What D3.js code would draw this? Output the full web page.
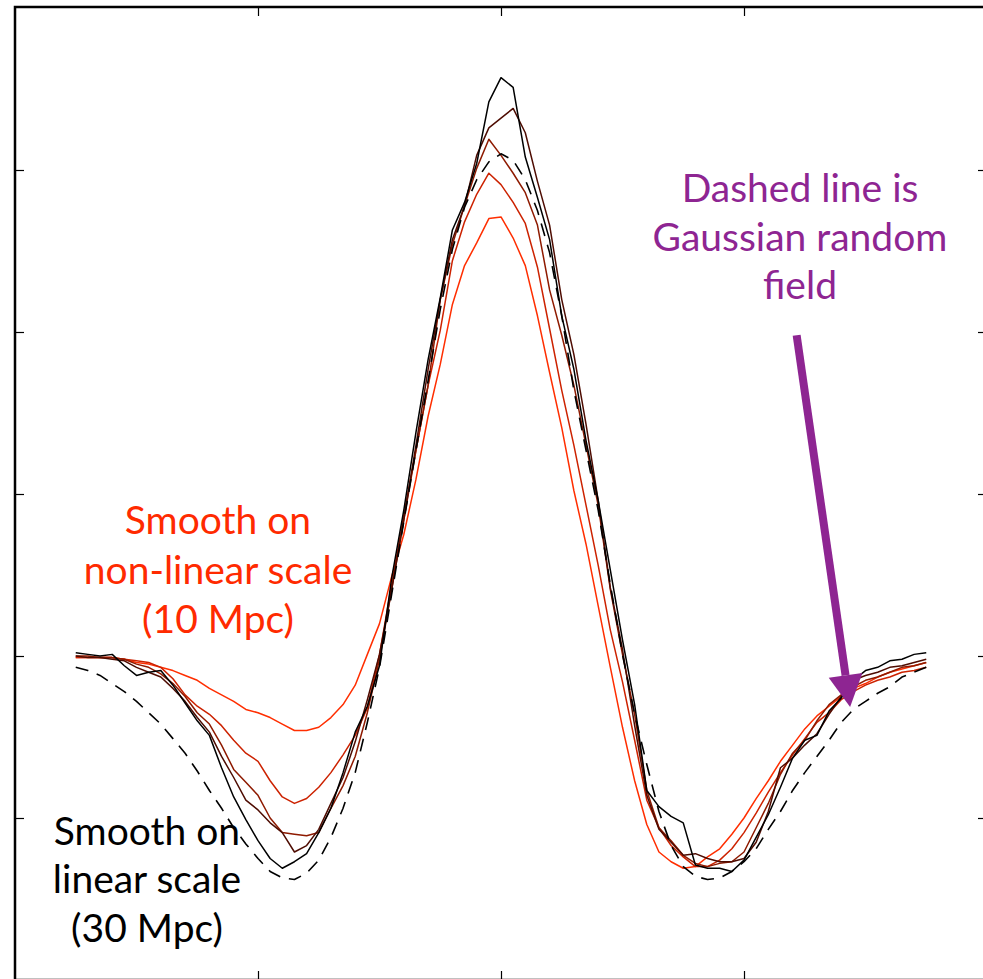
<!DOCTYPE html>
<html>
<head>
<meta charset="utf-8">
<script src="https://cdn.jsdelivr.net/npm/d3@7"></script>
<style>
  html, body { margin: 0; padding: 0; background: #fff; }
  svg { display: block; }
  .label { font-family: Lato, "Open Sans", sans-serif; font-size: 39px; }
</style>
</head>
<body>
<div id="chart"></div>
<script>
// sample positions along the cut (Mpc)
const xPos = [-52.5,-51,-49.5,-48,-46.5,-45,-43.5,-42,-40.5,-39,-37.5,-36,-34.5,-33,-31.5,-30,-28.5,-27,-25.5,-24,-22.5,-21,-19.5,-18,-16.5,-15,-13.5,-12,-10.5,-9,-7.5,-6,-4.5,-3,-1.5,0,1.5,3,4.5,6,7.5,9,10.5,12,13.5,15,16.5,18,19.5,21,22.5,24,25.5,27,28.5,30,31.5,33,34.5,36,37.5,39,40.5,42,43.5,45,46.5,48,49.5,51,52.5];

// Gaussian random field (dashed)
const gaussianField = [-0.07,-0.09,-0.12,-0.17,-0.22,-0.28,-0.35,-0.42,-0.51,-0.60,-0.71,-0.83,-0.94,-1.06,-1.16,-1.25,-1.33,-1.37,-1.38,-1.34,-1.26,-1.12,-0.94,-0.72,-0.41,-0.07,0.38,0.83,1.27,1.70,2.14,2.51,2.77,2.94,3.05,3.10,
  3.06,2.94,2.75,2.49,2.10,1.64,1.27,0.90,0.44,0.01,-0.36,-0.67,-0.96,-1.17,-1.30,-1.36,-1.38,-1.37,-1.33,-1.27,-1.19,-1.07,-0.96,-0.83,-0.72,-0.62,-0.52,-0.41,-0.33,-0.28,-0.23,-0.19,-0.13,-0.10,-0.07];

// smoothed on linear scale (30 Mpc) -> non-linear scale (10 Mpc)
const smoothLinear = [0.02,0.01,0,0.01,-0.06,-0.12,-0.10,-0.09,-0.18,-0.29,-0.40,-0.49,-0.69,-0.87,-1.01,-1.14,-1.25,-1.31,-1.27,-1.22,-1.09,-0.94,-0.72,-0.47,-0.31,-0.06,0.48,0.90,1.38,1.83,2.21,2.63,2.80,3.04,3.42,3.57,
  3.51,3.08,2.83,2.57,2.10,1.77,1.33,0.96,0.53,0.10,-0.30,-0.83,-0.93,-0.99,-1.03,-1.29,-1.31,-1.31,-1.33,-1.26,-1.12,-0.98,-0.81,-0.63,-0.52,-0.49,-0.34,-0.26,-0.15,-0.09,-0.07,-0.03,-0.02,0.01,0.02];

const smoothStep2 = [0,-0.01,-0.01,-0.02,-0.03,-0.07,-0.10,-0.13,-0.20,-0.28,-0.38,-0.47,-0.62,-0.75,-0.89,-0.95,-1.03,-1.09,-1.21,-1.17,-1.07,-0.91,-0.75,-0.53,-0.27,0.01,0.41,0.84,1.30,1.77,2.20,2.57,2.78,3.09,3.26,3.32,
  3.38,3.23,2.93,2.66,2.20,1.86,1.43,0.96,0.42,0.04,-0.43,-0.86,-1.07,-1.15,-1.23,-1.22,-1.25,-1.27,-1.27,-1.25,-1.15,-0.96,-0.69,-0.63,-0.55,-0.48,-0.36,-0.25,-0.15,-0.12,-0.10,-0.07,-0.06,-0.04,-0.02];

const smoothStep3 = [0,0,-0.01,-0.01,-0.02,-0.05,-0.07,-0.11,-0.17,-0.25,-0.35,-0.42,-0.55,-0.70,-0.78,-0.86,-1.00,-1.09,-1.10,-1.11,-1.09,-0.94,-0.80,-0.62,-0.35,-0.02,0.41,0.84,1.27,1.67,2.20,2.54,2.78,3.01,3.19,3.09,
  2.98,2.86,2.66,2.26,1.98,1.67,1.30,0.93,0.41,0.01,-0.36,-0.83,-1.06,-1.14,-1.23,-1.28,-1.30,-1.28,-1.27,-1.21,-1.06,-0.91,-0.73,-0.60,-0.52,-0.40,-0.30,-0.24,-0.19,-0.15,-0.13,-0.10,-0.07,-0.06,-0.04];

const smoothStep4 = [-0.01,-0.01,-0.01,-0.01,-0.02,-0.03,-0.04,-0.07,-0.14,-0.24,-0.31,-0.36,-0.43,-0.52,-0.60,-0.65,-0.77,-0.87,-0.91,-0.88,-0.81,-0.72,-0.61,-0.49,-0.32,0.01,0.44,0.87,1.27,1.67,2.01,2.44,2.68,2.85,2.98,2.91,
  2.80,2.67,2.40,2.02,1.64,1.30,0.93,0.56,0.16,-0.16,-0.52,-0.89,-1.06,-1.17,-1.24,-1.30,-1.30,-1.26,-1.19,-1.09,-0.97,-0.84,-0.72,-0.61,-0.51,-0.41,-0.35,-0.27,-0.22,-0.18,-0.15,-0.13,-0.10,-0.09,-0.07];

const smoothNonLinear = [-0.01,-0.01,-0.01,-0.01,-0.02,-0.04,-0.05,-0.07,-0.09,-0.12,-0.15,-0.20,-0.24,-0.28,-0.33,-0.35,-0.38,-0.42,-0.46,-0.46,-0.44,-0.38,-0.30,-0.18,0.01,0.20,0.49,0.75,1.09,1.48,1.80,2.17,2.41,2.55,2.70,2.71,
  2.58,2.41,2.10,1.75,1.41,1.02,0.69,0.31,-0.07,-0.44,-0.77,-1.04,-1.21,-1.27,-1.31,-1.30,-1.24,-1.19,-1.10,-1.00,-0.88,-0.77,-0.65,-0.55,-0.45,-0.37,-0.31,-0.25,-0.20,-0.17,-0.13,-0.10,-0.08,-0.06,-0.04];

const xTicks = [-30, 0, 30];
const yTicks = [-1, 0, 1, 2, 3];

const width = 983, height = 979;

const svg = d3.select("#chart")
    .append("svg")
    .attr("width", width)
    .attr("height", height);

// plot box runs off the right and bottom edge a little, like the original
const x = d3.scaleLinear().domain([-60, 60]).range([15, 987]);
const y = d3.scaleLinear().domain([-2, 4]).range([980, 8]);

// inward ticks on all four sides, no labels
const tickLen = 9;
svg.append("g").attr("transform", "translate(15,0)")
    .call(d3.axisLeft(y).tickValues(yTicks).tickSize(-tickLen).tickFormat(""));
svg.append("g").attr("transform", "translate(987,0)")
    .call(d3.axisRight(y).tickValues(yTicks).tickSize(-tickLen).tickFormat(""));
svg.append("g").attr("transform", "translate(0,7)")
    .call(d3.axisTop(x).tickValues(xTicks).tickSize(-tickLen).tickFormat(""));
svg.append("g").attr("transform", "translate(0,980)")
    .call(d3.axisBottom(x).tickValues(xTicks).tickSize(-tickLen).tickFormat(""));
svg.selectAll(".domain").remove();
svg.selectAll(".tick line").attr("stroke", "#000").attr("stroke-width", 1.2);

svg.append("rect")
    .attr("x", 15).attr("y", 7)
    .attr("width", 972).attr("height", 973)
    .attr("fill", "none")
    .attr("stroke", "#000")
    .attr("stroke-width", 2.5);

const series = [
    { values: smoothNonLinear, color: "#ff2e00", dash: null },
    { values: smoothStep4, color: "#cc2200", dash: null },
    { values: smoothStep3, color: "#8e1a00", dash: null },
    { values: smoothStep2, color: "#4e0c02", dash: null },
    { values: smoothLinear, color: "#000000", dash: null },
    { values: gaussianField, color: "#000000", dash: "13,9" }
];

const line = d3.line()
    .x((d, i) => x(xPos[i]))
    .y(d => y(d));

svg.selectAll("path.curve")
    .data(series)
    .enter()
    .append("path")
    .attr("class", "curve")
    .attr("d", d => line(d.values))
    .attr("fill", "none")
    .attr("stroke", d => d.color)
    .attr("stroke-width", d => d.dash ? 1.6 : 1.5)
    .attr("stroke-linejoin", "round")
    .attr("stroke-dasharray", d => d.dash);

// text annotations
function block(lines, cx, baselines, color) {
    const t = svg.append("text")
        .attr("class", "label")
        .attr("text-anchor", "middle")
        .attr("fill", color);
    lines.forEach((s, i) => {
        t.append("tspan").attr("x", cx).attr("y", baselines[i]).text(s);
    });
}
block(["Smooth on", "non-linear scale", "(10 Mpc)"], 218, [534, 584, 633], "#ff2a00");
block(["Smooth on", "linear scale", "(30 Mpc)"], 147, [845, 893, 942], "#000000");
block(["Dashed line is", "Gaussian random", "field"], 800, [202, 251, 299], "#8e2592");

// arrow pointing at the dashed curve
const arrowFrom = [36.5, 1.98], arrowTo = [43.1, -0.315];
const ax0 = x(arrowFrom[0]), ay0 = y(arrowFrom[1]);
const ax1 = x(arrowTo[0]), ay1 = y(arrowTo[1]);
const ang = Math.atan2(ay1 - ay0, ax1 - ax0);
const headLen = 32, headHalf = 17;
const bx = ax1 - headLen * Math.cos(ang), by = ay1 - headLen * Math.sin(ang);
svg.append("line")
    .attr("x1", ax0).attr("y1", ay0)
    .attr("x2", bx).attr("y2", by)
    .attr("stroke", "#8e2592")
    .attr("stroke-width", 8);
svg.append("path")
    .attr("d", "M" + ax1 + "," + ay1 +
        "L" + (bx + headHalf * Math.sin(ang)) + "," + (by - headHalf * Math.cos(ang)) +
        "L" + (bx - headHalf * Math.sin(ang)) + "," + (by + headHalf * Math.cos(ang)) + "Z")
    .attr("fill", "#8e2592");
</script>
</body>
</html>
